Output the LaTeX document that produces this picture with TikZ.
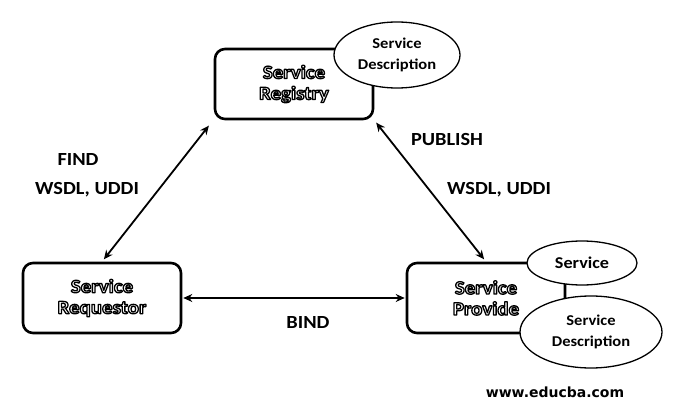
\documentclass[tikz,border=0pt]{standalone}
\usepackage{fontspec}
\setmainfont{Carlito}[FakeStretch=1.1]
\newfontfamily\urlfont{DejaVu Sans}
\usetikzlibrary{shapes.geometric,arrows.meta}
\tikzset{
  mainbox/.style={draw, line width=2.6pt, rounded corners=10pt, minimum width=158pt, minimum height=70pt, align=center, font=\fontsize{19}{22}\selectfont\bfseries, inner sep=0pt},
  bubble/.style={draw, ellipse, fill=white, line width=1.3pt, align=center, inner sep=0pt, font=\fontsize{15}{21}\selectfont\bfseries},
  lbl/.style={font=\fontsize{18.5}{20}\selectfont\bfseries, inner sep=0pt},
  link/.style={line width=1.8pt, {Stealth[length=9pt,width=8pt]}-{Stealth[length=9pt,width=8pt]}},
}
\newcommand{\wordart}[1]{{\color{white}\special{pdf:code 0 G 1.3 w 1 j 2 Tr}#1\special{pdf:code 0 Tr 0.4 w}}}
\begin{document}
\begin{tikzpicture}[x=1pt,y=-1pt]
\useasboundingbox (0,0) rectangle (680,414);
\node[mainbox] (reg) at (294,84) {\wordart{Service}\\[-1pt]\wordart{Registry}};
\node[mainbox] (req) at (102,298) {\wordart{Service}\\[-1pt]\wordart{Requestor}};
\node[mainbox] (prov) at (486,298) {\wordart{Service}\\[-1pt]\wordart{Provide}};
\node[bubble, minimum width=126pt, minimum height=66pt] (regdesc) at (397,55) {Service\\Description};
\node[bubble, minimum width=110pt, minimum height=44pt, font=\fontsize{16.5}{20}\selectfont\bfseries] (svc) at (582,263) {Service};
\node[bubble, minimum width=142pt, minimum height=72pt] (provdesc) at (591,332) {Service\\Description};
\draw[link, shorten <=3pt, shorten >=3pt] ([shift={(-3,3)}]reg.south west) -- (req.north);
\draw[link, shorten <=3pt, shorten >=3pt] (reg.south east) -- (prov.north);
\draw[link, shorten <=1pt, shorten >=1pt] (req.east) -- (prov.west);
\node[lbl] (find) at (78,160) {FIND};
\node[lbl] (wsdl1) at (87,190) {WSDL, UDDI};
\node[lbl] (pub) at (447,140) {PUBLISH};
\node[lbl] (wsdl2) at (499,190) {WSDL, UDDI};
\node[lbl] (bind) at (308,323) {BIND};
\node[font=\urlfont\bfseries\fontsize{14}{16}\selectfont, inner sep=0pt] (url) at (555,392) {www.educba.com};
\end{tikzpicture}
\end{document}
